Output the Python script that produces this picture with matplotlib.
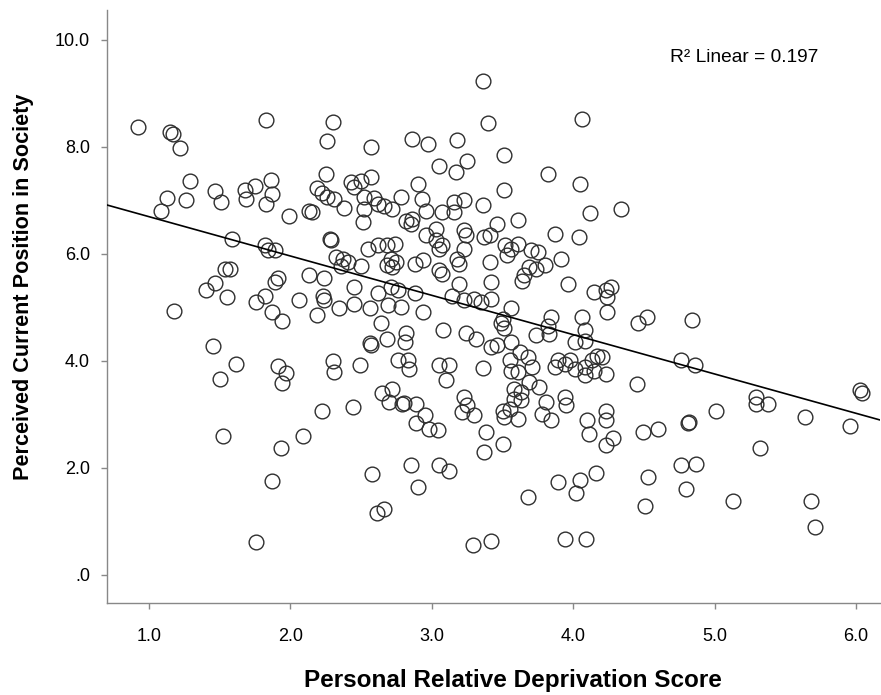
import numpy as np
import matplotlib
matplotlib.use("Agg")
import matplotlib.pyplot as plt

# Personal relative deprivation score (x) vs perceived current position in society (y)
deprivation = [
    0.92, 1.15, 1.17, 1.22, 1.29, 1.13, 1.26, 1.085, 1.47, 1.51, 1.68, 1.685, 1.75,
    1.59, 1.54, 1.57, 1.47, 1.40, 1.55, 1.175, 1.45, 1.615, 1.50, 1.52, 1.757,
    1.83, 2.30, 2.26, 2.57, 2.86, 2.97, 1.86, 1.87, 2.25, 2.19, 2.22, 2.26, 2.31,
    2.43, 2.45, 2.50, 2.57, 2.90, 2.78, 2.93, 2.52, 2.59,
    1.83, 1.99, 2.13, 2.15, 2.38, 2.51, 2.52, 2.62, 2.66, 2.72, 2.82, 2.85, 2.86,
    2.96, 2.94, 2.88, 2.28, 2.29, 1.82, 1.89, 1.84, 2.32, 2.37, 2.41, 2.36, 2.50,
    2.55, 2.62, 2.68, 2.74, 2.68, 2.71, 2.72, 2.75, 2.13, 2.24, 1.89, 1.91, 1.82,
    1.76, 2.06, 2.23, 2.24, 2.34, 2.45, 2.45, 2.56, 2.62, 2.69, 2.71, 2.76, 2.78,
    2.88, 2.94, 1.87, 1.94, 2.19, 2.64,
    1.91, 1.97, 1.94, 2.30, 2.31, 2.49, 2.56, 2.57, 2.68, 2.82, 2.81, 2.76, 2.83,
    2.84, 2.65, 2.72, 2.70, 2.79, 2.80, 2.89, 2.95, 2.89, 2.98, 2.22, 2.44, 2.09,
    1.93,
    1.87, 2.58, 2.85, 2.90, 2.61, 2.66,
    3.36, 3.40, 4.06, 3.18, 3.51, 3.05, 3.25, 3.17, 3.82, 4.05, 3.51,
    3.16, 3.23, 2.96, 3.07, 3.16, 3.36, 3.61, 3.46, 4.12, 3.03, 3.03, 3.07, 3.05,
    3.23, 3.24, 3.37, 3.41, 3.87, 4.04, 3.23, 3.18, 3.19, 3.05, 3.07, 3.41, 3.52,
    3.56, 3.61, 3.53, 3.70, 3.75, 3.69, 3.74, 3.80, 3.65, 3.64, 3.91, 3.96, 3.19,
    3.42, 3.14, 3.23, 3.30, 3.35, 3.42, 4.15, 4.23, 4.24, 4.24, 3.56, 3.50, 3.49,
    3.51, 3.84, 4.06,
    3.08, 3.24, 3.31, 3.42, 3.46, 3.56, 3.74, 3.83, 3.82, 4.01, 4.08, 4.08, 3.62,
    3.68, 3.55, 3.56, 3.71, 3.61, 3.69, 3.87, 3.89, 3.94, 3.98, 4.01, 4.08, 4.13,
    4.17, 4.08, 4.15, 4.23, 3.05, 3.12, 3.10, 3.36, 3.04, 3.23, 3.25, 3.21, 3.30,
    3.58, 3.63, 3.58, 3.63, 3.50, 3.55, 3.51, 3.61, 3.76, 3.81, 3.94, 3.95, 3.78,
    3.84, 3.38, 3.50, 3.37, 4.10, 4.11, 4.23, 4.23, 4.28, 4.23,
    3.05, 3.12, 3.68, 3.89, 4.05, 4.02, 4.16, 3.29, 3.42, 3.94, 4.09,
    4.34, 4.27, 4.52, 4.46, 4.84, 4.20, 4.76, 4.86, 4.45, 4.49, 4.60, 4.81, 4.82,
    5.01, 5.29, 5.29, 5.38, 5.64, 6.03, 6.04, 5.96, 5.32, 4.53, 4.76, 4.87, 4.80,
    4.51, 5.13, 5.68, 5.71,
]
position = [
    8.37, 8.28, 8.24, 7.98, 7.36, 7.05, 7.00, 6.80, 7.17, 6.97, 7.20, 7.03, 7.27,
    6.28, 5.72, 5.72, 5.45, 5.32, 5.19, 4.94, 4.28, 3.95, 3.67, 2.59, 0.61,
    8.50, 8.46, 8.11, 8.00, 8.14, 8.05, 7.39, 7.12, 7.50, 7.24, 7.14, 7.06, 7.03,
    7.34, 7.25, 7.37, 7.44, 7.30, 7.07, 7.02, 7.06, 7.05,
    6.94, 6.70, 6.81, 6.78, 6.86, 6.60, 6.84, 6.94, 6.90, 6.84, 6.62, 6.55, 6.66,
    6.35, 5.88, 5.82, 6.28, 6.25, 6.16, 6.08, 6.08, 5.94, 5.91, 5.85, 5.78, 5.77,
    6.10, 6.16, 6.16, 6.19, 5.80, 5.90, 5.75, 5.84, 5.60, 5.54, 5.47, 5.55, 5.22,
    5.10, 5.13, 5.22, 5.13, 4.98, 5.38, 5.07, 4.98, 5.26, 5.04, 5.38, 5.32, 5.01,
    5.26, 4.91, 4.91, 4.74, 4.85, 4.70,
    3.90, 3.77, 3.59, 3.99, 3.79, 3.92, 4.33, 4.30, 4.41, 4.52, 4.35, 4.01, 4.02,
    3.85, 3.40, 3.48, 3.23, 3.20, 3.22, 3.20, 2.98, 2.83, 2.73, 3.06, 3.14, 2.59,
    2.38,
    1.75, 1.89, 2.05, 1.65, 1.16, 1.24,
    9.24, 8.45, 8.53, 8.12, 7.84, 7.65, 7.73, 7.53, 7.50, 7.30, 7.20,
    6.97, 7.00, 6.81, 6.78, 6.78, 6.91, 6.63, 6.56, 6.76, 6.47, 6.25, 6.16, 6.10,
    6.44, 6.35, 6.31, 6.35, 6.38, 6.31, 6.10, 5.91, 5.82, 5.69, 5.63, 5.85, 6.16,
    6.10, 6.19, 5.97, 6.07, 6.03, 5.75, 5.72, 5.79, 5.60, 5.50, 5.91, 5.44, 5.44,
    5.47, 5.22, 5.13, 5.16, 5.10, 5.16, 5.29, 5.32, 5.19, 4.91, 4.98, 4.79, 4.70,
    4.62, 4.82, 4.82,
    4.57, 4.52, 4.40, 4.26, 4.29, 4.35, 4.48, 4.51, 4.66, 4.35, 4.57, 4.38, 4.16,
    4.07, 4.01, 3.82, 3.88, 3.79, 3.60, 3.88, 4.01, 3.95, 4.01, 3.85, 3.88, 4.01,
    4.10, 3.73, 3.82, 3.76, 3.92, 3.92, 3.65, 3.87, 2.70, 3.32, 3.17, 3.04, 2.98,
    3.48, 3.42, 3.29, 3.26, 3.07, 3.11, 2.95, 2.92, 3.51, 3.23, 3.32, 3.17, 3.01,
    2.89, 2.67, 2.45, 2.30, 2.89, 2.64, 3.07, 2.89, 2.55, 2.42,
    2.05, 1.95, 1.45, 1.73, 1.77, 1.53, 1.90, 0.55, 0.63, 0.68, 0.68,
    6.83, 5.38, 4.82, 4.70, 4.77, 4.08, 4.02, 3.93, 3.57, 2.68, 2.72, 2.83, 2.85,
    3.07, 3.32, 3.20, 3.19, 2.95, 3.45, 3.40, 2.78, 2.37, 1.83, 2.05, 2.07, 1.61,
    1.29, 1.39, 1.39, 0.89,
]

# Linear fit reported with the chart (R² = 0.197)
fit_intercept = 7.43
fit_slope = -0.735
r_squared = 0.197

x_ticks = [1.0, 2.0, 3.0, 4.0, 5.0, 6.0]
x_tick_labels = ["1.0", "2.0", "3.0", "4.0", "5.0", "6.0"]
y_ticks = [0.0, 2.0, 4.0, 6.0, 8.0, 10.0]
y_tick_labels = [".0", "2.0", "4.0", "6.0", "8.0", "10.0"]

x = np.asarray(deprivation, dtype=float)
y = np.asarray(position, dtype=float)

plt.rcParams["font.family"] = ["Liberation Sans", "DejaVu Sans"]

fig = plt.figure(figsize=(8.81, 6.95), dpi=100)
ax = fig.add_axes([0.121, 0.132, 0.878, 0.853])

xlim = (0.70, 6.17)
ylim = (-0.53, 10.55)

ax.plot(x, y, linestyle="none", marker="o", markersize=10.6,
        markerfacecolor="none", markeredgecolor="#2e2e2e", markeredgewidth=1.0,
        zorder=3)

# fit line spanning the whole axis
xs = np.array(xlim)
ax.plot(xs, fit_intercept + fit_slope * xs, color="black", linewidth=1.2, zorder=4)

ax.text(0.728, 0.921, f"R\u00b2 Linear = {r_squared:.3f}", transform=ax.transAxes,
        fontsize=13.8, ha="left", va="center", color="black")

ax.set_xlim(*xlim)
ax.set_ylim(*ylim)
ax.set_xticks(x_ticks)
ax.set_xticklabels(x_tick_labels)
ax.set_yticks(y_ticks)
ax.set_yticklabels(y_tick_labels)

for side in ("top", "right"):
    ax.spines[side].set_visible(False)
for side in ("left", "bottom"):
    ax.spines[side].set_color("#888888")
    ax.spines[side].set_linewidth(1.0)

ax.tick_params(axis="both", direction="out", length=4, width=1.0,
               color="#888888", labelsize=13, labelcolor="black")
ax.tick_params(axis="x", pad=14)
ax.tick_params(axis="y", pad=8)

ax.set_xlabel("Personal Relative Deprivation Score", fontsize=17.5,
              fontweight="bold", labelpad=17)
ax.set_ylabel("Perceived Current Position in Society", fontsize=15.6,
              fontweight="bold", labelpad=15)
ax.xaxis.label.set_x(0.525)
ax.yaxis.label.set_y(0.533)

fig.savefig("out.png", dpi=100, facecolor="white")
